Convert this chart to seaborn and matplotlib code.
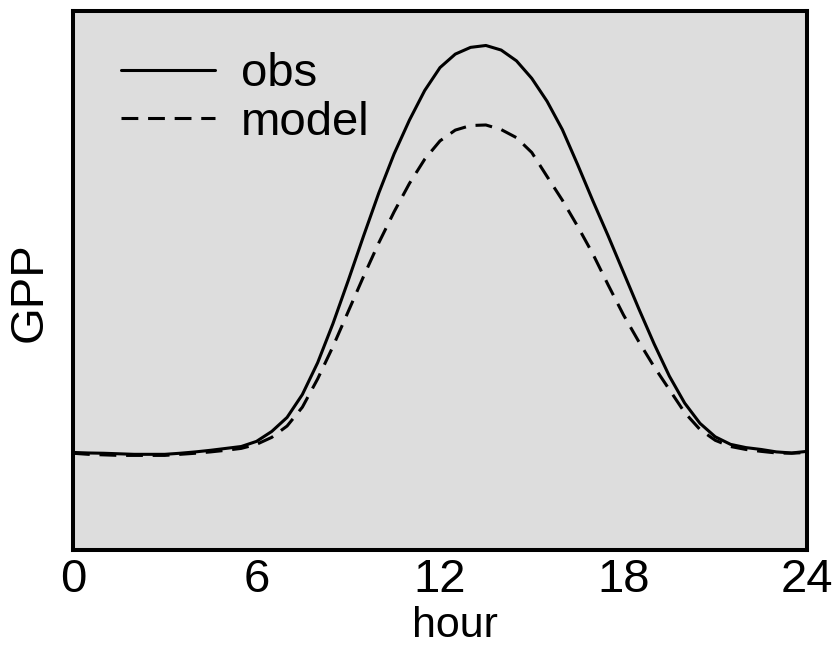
import matplotlib
matplotlib.use("Agg")
import matplotlib.pyplot as plt
import seaborn as sns
import pandas as pd

# Mean diurnal cycle of GPP, half-hourly
hours = [i * 0.5 for i in range(49)]

gpp_obs = [
    3.62, 3.60, 3.59, 3.57, 3.55, 3.55, 3.55, 3.59, 3.64, 3.70,
    3.77, 3.84, 4.03, 4.40, 4.92, 5.77, 6.95, 8.40, 10.00, 11.65,
    13.25, 14.70, 15.95, 17.05, 17.90, 18.40, 18.65, 18.72, 18.55, 18.15,
    17.50, 16.65, 15.60, 14.30, 12.95, 11.65, 10.30, 8.95, 7.65, 6.45,
    5.45, 4.70, 4.20, 3.92, 3.80, 3.73, 3.64, 3.60, 3.66,
]

gpp_model = [
    3.59, 3.55, 3.53, 3.51, 3.51, 3.51, 3.51, 3.55, 3.59, 3.64,
    3.70, 3.77, 3.92, 4.18, 4.60, 5.30, 6.35, 7.55, 8.85, 10.15,
    11.40, 12.55, 13.60, 14.50, 15.18, 15.58, 15.75, 15.77, 15.60, 15.30,
    14.75, 13.86, 12.98, 12.01, 10.98, 9.83, 8.72, 7.73, 6.80, 5.95,
    5.10, 4.47, 4.07, 3.84, 3.73, 3.66, 3.60, 3.59, 3.62,
]

series_names = ["obs", "model"]
xticks = [0, 6, 12, 18, 24]

df = pd.DataFrame({
    "hour": hours * 2,
    "GPP": gpp_obs + gpp_model,
    "series": [series_names[0]] * len(hours) + [series_names[1]] * len(hours),
})

sns.set_style("white", {"axes.facecolor": "#dddddd"})
plt.rcParams["font.family"] = ["Liberation Sans", "DejaVu Sans"]
plt.rcParams["font.size"] = 34
plt.rcParams["text.color"] = "black"
plt.rcParams["axes.labelcolor"] = "black"
plt.rcParams["xtick.color"] = "black"

fig = plt.figure(figsize=(8.35, 6.46), dpi=100)
ax = fig.add_axes([0.0874, 0.1486, 0.8791, 0.8344])

lw = 2.2
sns.lineplot(
    data=df, x="hour", y="GPP", style="series",
    dashes={"obs": "", "model": (5.5, 3.2)},
    color="black", linewidth=lw, ax=ax, legend=True,
)

ax.set_xlim(0, 24)
ax.set_ylim(0, 20)
ax.set_xticks(xticks)
ax.set_xticklabels([str(t) for t in xticks])
ax.set_yticks([])
ax.tick_params(axis="x", length=0, pad=5.5, labelsize=34, labelcolor="black")
ax.set_xlabel("hour", fontsize=31, color="black")
ax.xaxis.set_label_coords(0.52, -0.103)
ax.set_ylabel("GPP", fontsize=34, color="black")
ax.yaxis.set_label_coords(-0.029, 0.478)

for sp in ax.spines.values():
    sp.set_visible(True)
    sp.set_color("black")
    sp.set_linewidth(2.9)

handles, labels = ax.get_legend_handles_labels()
leg = ax.legend(
    handles, labels, loc="upper left", bbox_to_anchor=(0.02, 0.985),
    frameon=False, fontsize=34, handlelength=2.0, handletextpad=0.55,
    labelspacing=0.1, borderpad=0.2, labelcolor="black",
)

fig.savefig("out.png", dpi=100)
